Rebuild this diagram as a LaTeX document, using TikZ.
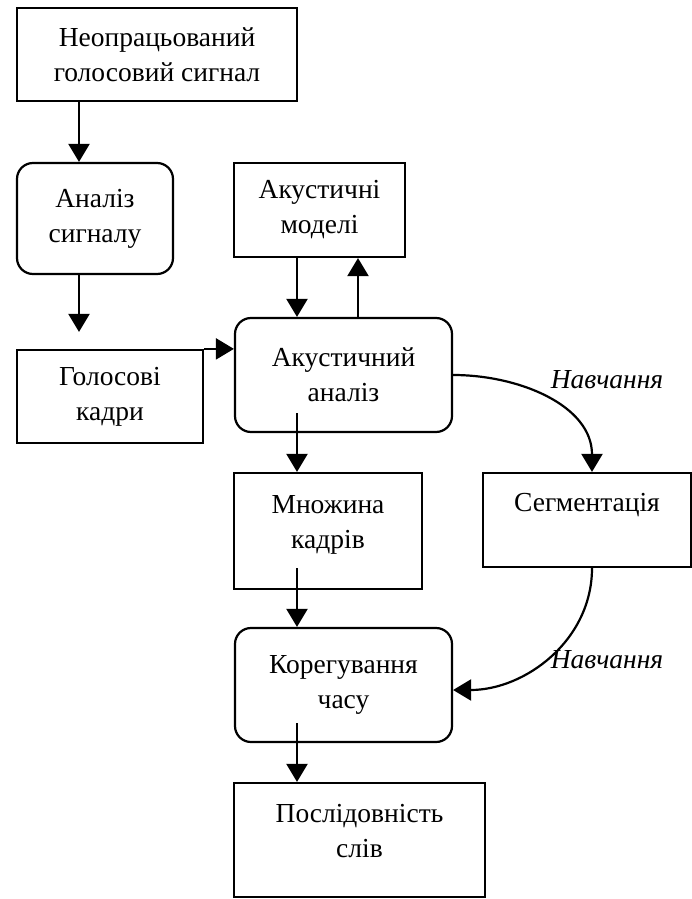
\documentclass[tikz,border=0pt]{standalone}
\usepackage{fontspec}
\setmainfont{Liberation Serif}
\usetikzlibrary{arrows.meta}

\tikzset{
  box/.style={draw=black, line width=2.2pt, inner sep=0pt, align=center, font=\fontsize{27.5}{35}\selectfont},
  rbox/.style={box, rounded corners=16pt},
  arr/.style={line width=2.2pt, -{Triangle[width=21pt,length=18pt]}},
  lbl/.style={font=\fontsize{27.5}{35}\selectfont\itshape}
}

\begin{document}
\begin{tikzpicture}[x=1pt, y=-1pt]

\useasboundingbox (0,0) rectangle (692,899);

\node[box, minimum width=280pt, minimum height=93pt] (raw) at (157,54.5) {Неопрацьований\\голосовий сигнал};
\node[rbox, minimum width=156pt, minimum height=111pt] (sig) at (95,218.5) {Аналіз\\сигналу};
\node[box, minimum width=186pt, minimum height=93pt] (frm) at (110,396.5) {Голосові\\кадри};
\node[box, minimum width=171pt, minimum height=94pt] (mod) at (319.5,210) {Акустичні\\моделі};
\node[rbox, minimum width=217pt, minimum height=114pt] (ana) at (343.5,375) {Акустичний\\аналіз};
\node[box, minimum width=188pt, minimum height=116pt] (set) at (328,531) {Множина\\кадрів\\[-17pt]~};
\node[box, minimum width=208pt, minimum height=94pt] (seg) at (587,520) {Сегментація\\~};
\node[rbox, minimum width=217pt, minimum height=114pt] (cor) at (343.5,685) {Корегування\\часу};
\node[box, minimum width=251pt, minimum height=114pt] (seq) at (359.5,840) {Послідовність\\слів\\[-17pt]~};

\node[lbl] (learn1) at (607,380) {Навчання};
\node[lbl] (learn2) at (607,660) {Навчання};

\draw[arr] (raw.south -| 79,0) -- (sig.north -| 79,0);
\draw[arr, shorten >=17pt] (sig.south -| 79,0) -- (frm.north -| 79,0);
\draw[arr] (frm.north east) -- (frm.north east -| ana.west);
\draw[arr] (mod.south -| 297,0) -- (ana.north -| 297,0);
\draw[arr] (ana.north -| 358,0) -- (mod.south -| 358,0);
\draw[arr, shorten <=-20pt] (ana.south -| 297,0) -- (set.north -| 297,0);
\draw[arr, shorten <=-22pt] (set.south -| 297,0) -- (cor.north -| 297,0);
\draw[arr, shorten <=-20pt] (cor.south -| 297,0) -- (seq.north -| 297,0);

\draw[arr] (ana.east |- 0,375) to[out=0, in=90] (seg.north -| 592,0);
\draw[arr] (seg.south -| 592,0) to[out=-90, in=0] (cor.east |- 0,690);

\end{tikzpicture}
\end{document}
